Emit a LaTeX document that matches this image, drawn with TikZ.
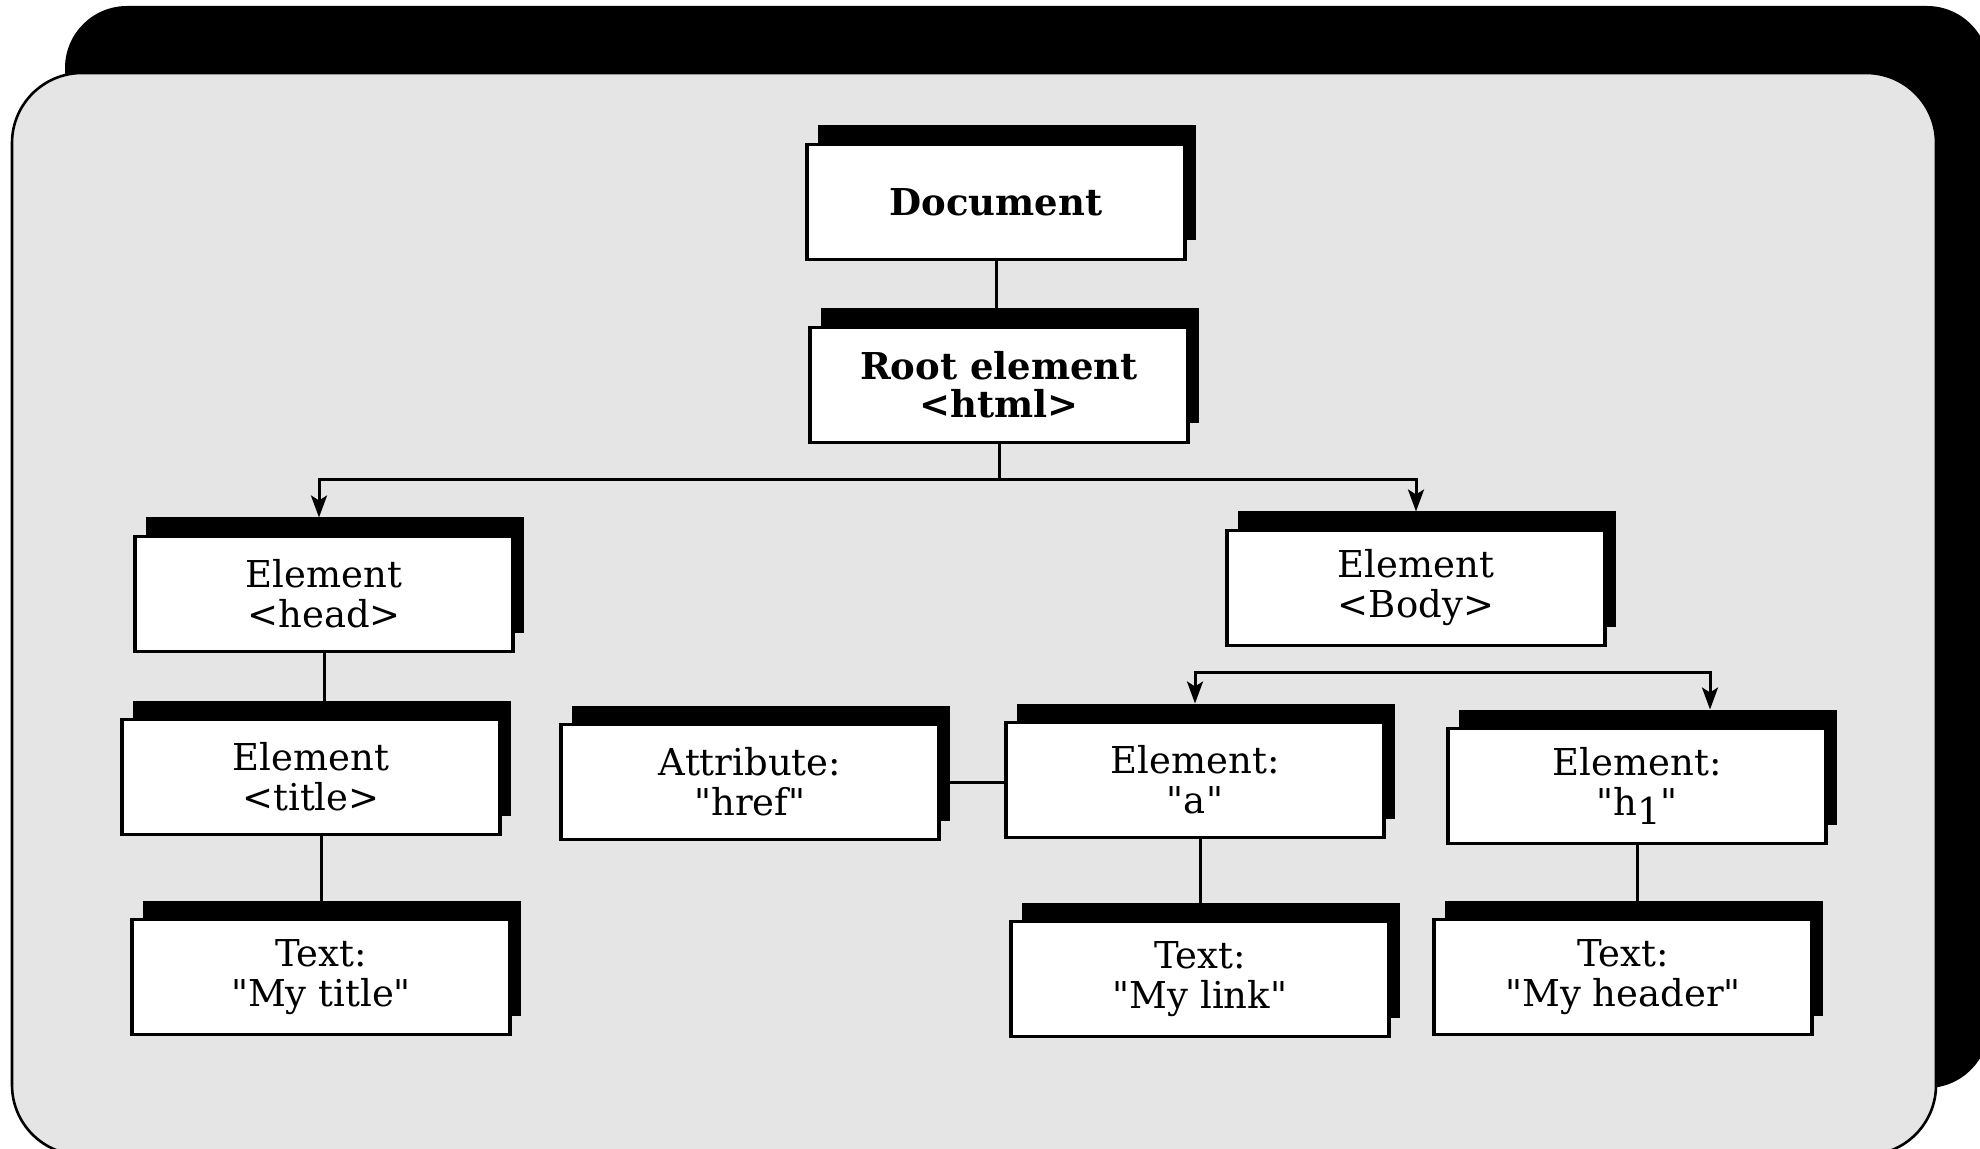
\documentclass[tikz,border=0pt]{standalone}
\usepackage{fontspec}
\setmainfont{DejaVu Serif}[Ligatures=TeXOff]
\usetikzlibrary{positioning,shadows,arrows.meta}
\definecolor{panelgray}{HTML}{E5E5E5}

\begin{document}
\begin{tikzpicture}[x=0.5pt,y=-0.5pt]
  \tikzset{BoxStyle/.style = {
    shape          = rectangle,
    draw           = black,
    fill           = white,
    line width     = 1.8pt,
    text           = black,
    align          = center,
    inner sep      = 0pt,
    outer sep      = 0pt,
    minimum width  = 189pt,
    minimum height = 57.5pt,
    font           = \fontsize{18.5}{20}\selectfont,
    drop shadow    = {shadow xshift=5.5pt, shadow yshift=9.5pt, fill=black, opacity=1}
    }
  }
  \tikzset{BoldBoxStyle/.style = {
    BoxStyle,
    font           = \fontsize{18.5}{19}\selectfont\bfseries
    }
  }
  \tikzset{EdgeStyle/.style = {
    draw           = black,
    line width     = 1.5pt
    }
  }
  \tikzset{ArrowStyle/.style = {
    EdgeStyle,
    -{Stealth[length=11pt, width=8pt, inset=2.5pt]}
    }
  }

  \useasboundingbox (0,0) rectangle (1980,1149);
  % panel and its shadow
  \fill[black, rounded corners=31pt] (65,6) rectangle (1989,1088);
  \draw[line width=1.3pt, fill=panelgray, rounded corners=35pt] (12,73) rectangle (1936,1155);

  \node[BoldBoxStyle](Document) at (996,202) {Document};
  \node[BoldBoxStyle](Root) at (999,385) {Root element\\<html>};
  %
  \node[BoxStyle](Head) at (324,594) {Element\\<head>};
  \node[BoxStyle](Body) at (1416,588) {Element\\<Body>};
  %
  \node[BoxStyle](Title) at (311,777) {Element\\<title>};
  \node[BoxStyle](Href) at (750,782) {Attribute:\\"href"};
  \node[BoxStyle](Anchor) at (1195,780) {Element:\\"a"};
  \node[BoxStyle](Header) at (1637,786) {Element:\\"h\raisebox{-0.45ex}{1}"};
  %
  \node[BoxStyle](TitleText) at (321,977) {Text:\\"My title"};
  \node[BoxStyle](LinkText) at (1200,979) {Text:\\"My link"};
  \node[BoxStyle](HeaderText) at (1623,977) {Text:\\"My header"};

  %
  \draw[EdgeStyle](Document.south) -- (Document.south |- Root.north);
  \draw[EdgeStyle](Root.south) -- (Root.south |- 0,480) coordinate (RootBar);
  \draw[ArrowStyle](RootBar) -| ([xshift=-2.5pt, yshift=9.5pt]Head.north);
  \draw[ArrowStyle](RootBar) -| ([yshift=9.5pt]Body.north);
  \draw[EdgeStyle](Head.south) -- (Head.south |- Title.north);
  \draw[EdgeStyle](TitleText.north |- Title.south) -- (TitleText.north);
  \coordinate (BodyBar) at (Body.south |- 0,672);
  \draw[ArrowStyle](BodyBar) -| ([yshift=9.5pt]Anchor.north);
  \draw[ArrowStyle](BodyBar) -| ([xshift=36.5pt, yshift=9.5pt]Header.north);
  \draw[EdgeStyle](Href.east) -- (Href.east -| Anchor.west);
  \draw[EdgeStyle](LinkText.north |- Anchor.south) -- (LinkText.north);
  \draw[EdgeStyle](Header.south) -- (Header.south |- HeaderText.north);

\end{tikzpicture}
\end{document}
